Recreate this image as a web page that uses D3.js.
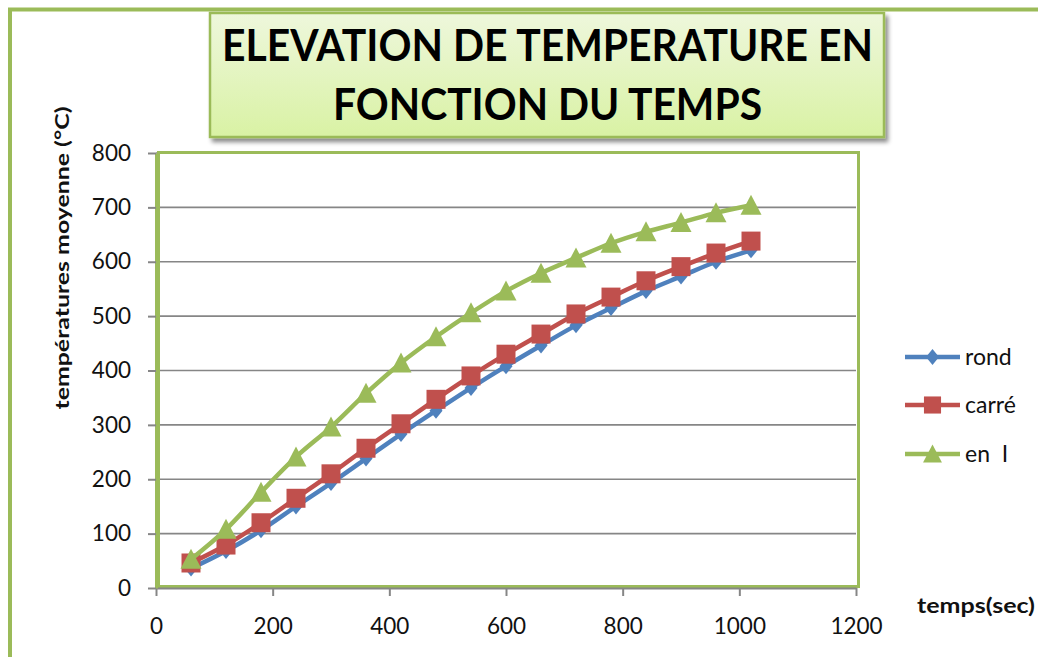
<!DOCTYPE html>
<html>
<head>
<meta charset="utf-8">
<script src="https://cdn.jsdelivr.net/npm/d3@7"></script>
<style>
  html, body { margin: 0; padding: 0; background: #fff; }
  svg { display: block; }
</style>
</head>
<body>
<svg id="chart" width="1038" height="657"></svg>
<script>
// Temps (s) et températures moyennes (°C) pour chaque section
const temps = [60, 120, 180, 240, 300, 360, 420, 480, 540, 600, 660, 720, 780, 840, 900, 960, 1020];
const rond  = [36, 68, 106, 150, 193, 238, 283, 326, 368, 408, 446, 483, 515, 546, 573, 600, 621];
const carre = [46, 79, 120, 165, 210, 257, 302, 347, 390, 430, 467, 504, 535, 565, 591, 616, 638];
const enI   = [53, 108, 176, 241, 296, 358, 414, 462, 506, 546, 579, 607, 634, 655, 672, 690, 704];

const seriesNames = ["rond", "carré", "en  I"];
const xTicks = [0, 200, 400, 600, 800, 1000, 1200];
const yTicks = [0, 100, 200, 300, 400, 500, 600, 700, 800];
const titleLines = ["ELEVATION DE TEMPERATURE EN", "FONCTION DU TEMPS"];

const series = [
  { name: seriesNames[0], values: rond,  color: "#4F81BD", marker: "diamond" },
  { name: seriesNames[1], values: carre, color: "#C0504D", marker: "square" },
  { name: seriesNames[2], values: enI,   color: "#9BBB59", marker: "triangle" }
];

const svg = d3.select("#chart");
const green = "#9BBB59";
const grid = "#868686";
const font = "Lato, 'Open Sans', sans-serif";

const x = d3.scaleLinear().domain([0, 1200]).range([156, 856]);
const y = d3.scaleLinear().domain([0, 800]).range([588, 153]);

// defs: title gradient + shadow
const defs = svg.append("defs");
const grad = defs.append("linearGradient").attr("id", "titleFill")
  .attr("x1", 0).attr("y1", 0).attr("x2", 0).attr("y2", 1);
grad.append("stop").attr("offset", "0%").attr("stop-color", "#eef7dc");
grad.append("stop").attr("offset", "100%").attr("stop-color", "#d9f2a4");
const shadow = defs.append("filter").attr("id", "shadow")
  .attr("x", "-5%").attr("y", "-10%").attr("width", "115%").attr("height", "130%");
shadow.append("feDropShadow").attr("dx", 3).attr("dy", 4)
  .attr("stdDeviation", 2).attr("flood-color", "#000").attr("flood-opacity", 0.45);

// outer chart frame
svg.append("rect")
  .attr("x", 10).attr("y", 9.5).attr("width", 1040).attr("height", 660)
  .attr("fill", "#fff").attr("stroke", green).attr("stroke-width", 4);

// gridlines
svg.append("g").selectAll("line").data(yTicks.slice(1)).join("line")
  .attr("x1", x(0)).attr("x2", x(1200))
  .attr("y1", d => y(d)).attr("y2", d => y(d))
  .attr("stroke", grid).attr("stroke-width", 1.6);

// plot area border
svg.append("rect")
  .attr("x", x(0) + 2.5).attr("y", y(800) - 0.5)
  .attr("width", x(1200) - x(0)).attr("height", y(0) - y(800) - 1)
  .attr("fill", "none").attr("stroke", green).attr("stroke-width", 3);

// axes
const xAxis = svg.append("g").attr("transform", `translate(0,${y(0)})`)
  .call(d3.axisBottom(x).tickValues(xTicks).tickFormat(d3.format("d"))
    .tickSize(8).tickSizeOuter(0).tickPadding(22));
const yAxis = svg.append("g").attr("transform", `translate(${x(0)},0)`)
  .call(d3.axisLeft(y).tickValues(yTicks).tickFormat(d3.format("d"))
    .tickSize(8).tickSizeOuter(0).tickPadding(17));
[xAxis, yAxis].forEach(a => {
  a.select(".domain").attr("stroke", grid).attr("stroke-width", 2);
  a.selectAll(".tick line").attr("stroke", grid).attr("stroke-width", 2);
  a.selectAll(".tick text").attr("fill", "#111").attr("font-size", 22.5)
    .attr("font-family", font);
});
yAxis.select(".domain").attr("stroke", green).attr("stroke-width", 3);

// axis titles
svg.append("text")
  .attr("transform", "translate(69,258) rotate(-90)")
  .attr("text-anchor", "middle")
  .attr("font-family", font).attr("font-weight", "bold").attr("font-size", 19)
  .attr("textLength", 303).attr("lengthAdjust", "spacingAndGlyphs")
  .attr("fill", "#111")
  .text("températures moyenne (°C)");
svg.append("text")
  .attr("x", 917).attr("y", 613)
  .attr("font-family", font).attr("font-weight", "bold").attr("font-size", 20)
  .attr("textLength", 118).attr("lengthAdjust", "spacingAndGlyphs")
  .attr("fill", "#111")
  .text("temps(sec)");

// markers
function markerPath(type) {
  if (type === "diamond") return "M0,-8L6.5,0L0,8L-6.5,0Z";
  if (type === "square") return "M-9.5,-9.5H9.5V9.5H-9.5Z";
  return "M0,-10.5L10.5,9.5H-10.5Z";
}

const line = d3.line().x((d, i) => x(temps[i])).y(d => y(d)).curve(d3.curveMonotoneX);

series.forEach(s => {
  const g = svg.append("g");
  g.append("path").datum(s.values)
    .attr("d", line).attr("fill", "none")
    .attr("stroke", s.color).attr("stroke-width", 4.5).attr("stroke-linejoin", "round");
  g.selectAll("path.m").data(s.values).join("path").attr("class", "m")
    .attr("transform", (d, i) => `translate(${x(temps[i])},${y(d)})`)
    .attr("d", markerPath(s.marker)).attr("fill", s.color);
});

// legend
const legendY = [357, 405, 454];
series.forEach((s, i) => {
  const g = svg.append("g").attr("transform", `translate(0,${legendY[i]})`);
  g.append("line").attr("x1", 905).attr("x2", 960).attr("y1", 0).attr("y2", 0)
    .attr("stroke", s.color).attr("stroke-width", 4.5);
  const sc = s.marker === "diamond" ? 1 : 0.9;
  g.append("path").attr("transform", `translate(932.5,0) scale(${sc})`)
    .attr("d", markerPath(s.marker)).attr("fill", s.color);
  g.append("text").attr("x", 965).attr("y", 8)
    .attr("font-family", font).attr("font-size", 23).attr("fill", "#111")
    .style("white-space", "pre")
    .text(s.name);
});

// title box
const tb = svg.append("g");
tb.append("rect")
  .attr("x", 210).attr("y", 13).attr("width", 674).attr("height", 124)
  .attr("fill", "url(#titleFill)").attr("stroke", green).attr("stroke-width", 2.5)
  .attr("filter", "url(#shadow)");
const titleBase = [61, 120];
const titleWidth = [651, 429];
titleLines.forEach((t, i) => {
  tb.append("text")
    .attr("x", 547.5).attr("y", titleBase[i]).attr("text-anchor", "middle")
    .attr("font-family", font).attr("font-weight", "bold").attr("font-size", 44)
    .attr("textLength", titleWidth[i]).attr("lengthAdjust", "spacingAndGlyphs")
    .attr("fill", "#000")
    .text(t);
});
</script>
</body>
</html>
